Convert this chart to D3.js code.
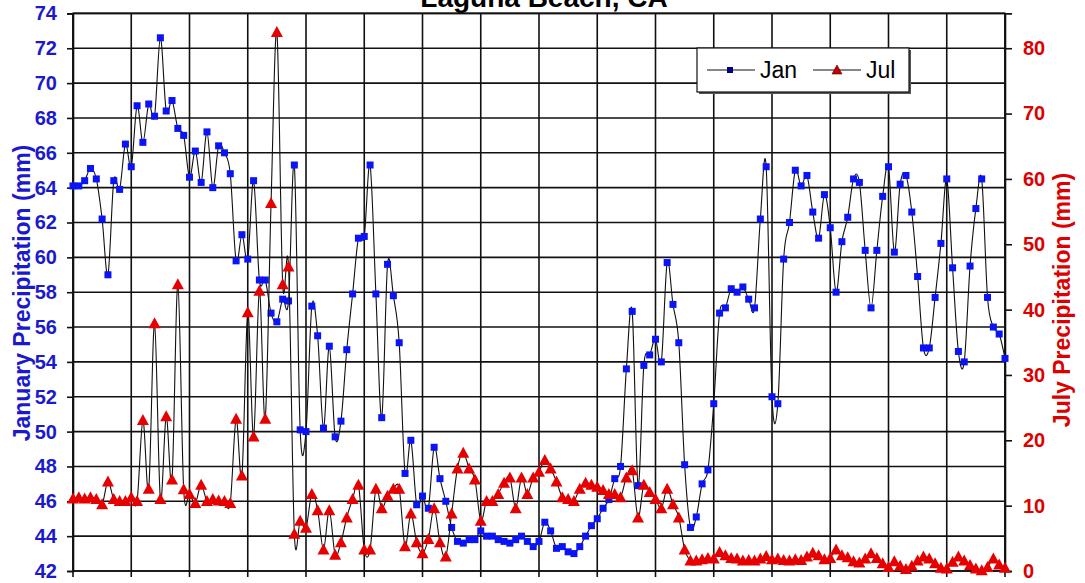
<!DOCTYPE html>
<html>
<head>
<meta charset="utf-8">
<script src="https://cdn.jsdelivr.net/npm/d3@7"></script>
<style>
  body { margin: 0; background: #fff; }
  svg { display: block; }
  text { font-family: Arial, "Liberation Sans", Helvetica, sans-serif; }
</style>
</head>
<body>
<svg id="chart" width="1085" height="583"></svg>
<script>
// Laguna Beach, CA — January (left axis) and July (right axis) precipitation, one value per year
const janPrecip = [
  64.1, 64.1, 64.4, 65.1, 64.5, 62.2, 59.0, 64.4, 63.9, 66.5,
  65.2, 68.7, 66.6, 68.8, 68.1, 72.6, 68.4, 69.0, 67.4, 67.0,
  64.6, 66.1, 64.3, 67.2, 64.0, 66.4, 66.0, 64.8, 59.8, 61.3,
  59.9, 64.4, 58.7, 58.7, 56.8, 56.3, 57.6, 57.5, 65.3, 50.1,
  50.0, 57.2, 55.5, 50.2, 54.9, 49.7, 50.6, 54.7, 57.9, 61.1,
  61.2, 65.3, 57.9, 50.8, 59.6, 57.8, 55.1, 47.6, 49.5, 45.8,
  46.3, 45.6, 49.1, 47.3, 46.0, 44.5, 43.7, 43.6, 43.8, 43.8,
  44.3, 44.0, 44.0, 43.8, 43.7, 43.6, 43.8, 44.0, 43.7, 43.4,
  43.7, 44.8, 44.3, 43.3, 43.4, 43.1, 43.0, 43.4, 44.0, 44.6,
  45.0, 45.6, 46.1, 47.3, 48.0, 53.6, 56.9, 46.9, 53.8, 54.4,
  55.3, 54.0, 59.7, 57.3, 55.1, 48.1, 44.5, 45.1, 47.0, 47.8,
  51.6, 56.8, 57.1, 58.2, 58.0, 58.3, 57.6, 57.1, 62.2, 65.2,
  52.0, 51.6, 59.9, 62.0, 65.0, 64.1, 64.7, 62.6, 61.1, 63.6,
  61.7, 58.0, 60.9, 62.3, 64.5, 64.3, 60.4, 57.1, 60.4, 63.5,
  65.2, 60.3, 64.2, 64.7, 62.6, 58.9, 54.8, 54.8, 57.7, 60.8,
  64.5, 59.4, 54.6, 54.0, 59.5, 62.8, 64.5, 57.7, 56.0, 55.6,
  54.2
];

const julPrecip = [
  11.1, 11.3, 11.1, 11.3, 11.0, 10.2, 13.7, 11.0, 10.7, 10.7,
  11.3, 10.7, 23.1, 12.6, 37.9, 11.0, 23.7, 14.0, 43.9, 12.5,
  11.8, 10.4, 13.2, 10.7, 11.0, 10.8, 10.7, 10.4, 23.3, 14.6,
  39.6, 20.6, 42.9, 23.3, 56.3, 82.5, 43.9, 46.6, 5.7, 7.7,
  6.6, 11.8, 9.3, 3.3, 9.3, 2.5, 4.4, 8.2, 11.0, 13.2,
  3.3, 3.3, 12.6, 9.6, 11.5, 12.6, 12.6, 3.8, 8.8, 4.4,
  2.7, 4.9, 9.6, 4.4, 2.2, 8.8, 15.7, 18.1, 15.7, 14.0,
  7.7, 10.7, 10.7, 11.8, 13.5, 14.3, 9.6, 14.3, 11.8, 14.3,
  15.2, 17.0, 15.7, 13.7, 11.3, 11.0, 10.7, 12.6, 13.5, 13.2,
  12.9, 12.4, 11.8, 11.8, 11.3, 14.3, 15.4, 8.2, 13.2, 12.1,
  11.0, 9.6, 12.6, 10.2, 8.2, 3.3, 1.6, 1.6, 1.8, 2.0,
  1.9, 2.9, 2.4, 2.0, 1.9, 1.6, 1.7, 1.6, 1.9, 2.3,
  1.8, 1.9, 1.7, 1.6, 1.8, 1.7, 2.2, 2.8, 2.4, 1.8,
  2.0, 3.3, 2.4, 2.1, 1.5, 1.3, 1.9, 2.7, 2.0, 1.2,
  0.6, 1.5, 0.8, 0.3, 0.8, 1.6, 2.2, 1.9, 1.2, 0.5,
  0.4, 1.4, 2.2, 1.6, 0.9, 0.4, 0.1, 0.6, 1.9, 1.0,
  0.5
];

const leftTicks = [42, 44, 46, 48, 50, 52, 54, 56, 58, 60, 62, 64, 66, 68, 70, 72, 74];
const rightTicks = [0, 10, 20, 30, 40, 50, 60, 70, 80];
const seriesNames = ["Jan", "Jul"];
const chartTitle = "Laguna Beach, CA";
const leftTitle = "January Precipitation (mm)";
const rightTitle = "July Precipitation (mm)";

const blue = "#1a1acc";
const red = "#dd0000";

const svg = d3.select("#chart");
const plot = { left: 73, right: 1005, top: 13.4, bottom: 571 };

const x = d3.scaleLinear().domain([0, janPrecip.length - 1]).range([plot.left, plot.right]);
const yL = d3.scaleLinear().domain([42, 74]).range([plot.bottom, plot.top]);
const yR = d3.scaleLinear().domain([0, 85.33]).range([plot.bottom, plot.top]);
const xGrid = d3.range(0, janPrecip.length, 10);

// grid
const grid = svg.append("g").attr("stroke", "#111").attr("stroke-width", 1.6);
grid.selectAll("line.h").data(leftTicks).join("line")
  .attr("x1", plot.left).attr("x2", plot.right)
  .attr("y1", d => yL(d)).attr("y2", d => yL(d));
grid.selectAll("line.v").data(xGrid).join("line")
  .attr("y1", plot.top).attr("y2", plot.bottom + 6)
  .attr("x1", d => x(d)).attr("x2", d => x(d));

// left axis
const leftAxis = svg.append("g").attr("transform", `translate(${plot.left},0)`)
  .call(d3.axisLeft(yL).tickValues(leftTicks).tickSize(6).tickPadding(10).tickFormat(d3.format("d")));
leftAxis.select(".domain").attr("stroke", "#111").attr("stroke-width", 1.6);
leftAxis.selectAll(".tick line").attr("stroke", "#111").attr("stroke-width", 1.6);
leftAxis.selectAll(".tick text").attr("fill", blue).attr("font-size", 20).attr("font-weight", "bold");

// right axis
const rightAxis = svg.append("g").attr("transform", `translate(${plot.right},0)`)
  .call(d3.axisRight(yR).tickValues(rightTicks).tickSize(7).tickPadding(11).tickFormat(d3.format("d")));
rightAxis.select(".domain").attr("stroke", "#111").attr("stroke-width", 1.6);
rightAxis.selectAll(".tick line").attr("stroke", "#111").attr("stroke-width", 1.6);
rightAxis.selectAll(".tick text").attr("fill", red).attr("font-size", 20).attr("font-weight", "bold");

// frame
svg.append("rect").attr("x", plot.left).attr("y", plot.top)
  .attr("width", plot.right - plot.left).attr("height", plot.bottom - plot.top)
  .attr("fill", "none").attr("stroke", "#111").attr("stroke-width", 1.6);

// series
svg.append("clipPath").attr("id", "plotclip").append("rect")
  .attr("x", plot.left - 8).attr("y", 0).attr("width", plot.right - plot.left + 16).attr("height", 583);

const smooth = d3.curveCardinal.tension(0);
const janLine = d3.line().x((d, i) => x(i)).y(d => yL(d)).curve(smooth);
const julLine = d3.line().x((d, i) => x(i)).y(d => yR(d)).curve(smooth);

const series = svg.append("g").attr("clip-path", "url(#plotclip)");
series.append("path").datum(janPrecip).attr("d", janLine)
  .attr("fill", "none").attr("stroke", "#111").attr("stroke-width", 1.1);
series.selectAll("rect.jan").data(janPrecip).join("rect")
  .attr("x", (d, i) => x(i) - 3.5).attr("y", d => yL(d) - 3.5)
  .attr("width", 7).attr("height", 7).attr("fill", "#0a14f5");

series.append("path").datum(julPrecip).attr("d", julLine)
  .attr("fill", "none").attr("stroke", "#111").attr("stroke-width", 1.1);
const tri = "M-6,5L6,5L0,-6Z";
series.selectAll("path.jul").data(julPrecip).join("path")
  .attr("transform", (d, i) => `translate(${x(i)},${yR(d)})`)
  .attr("d", tri).attr("fill", "#e60000");

// titles
svg.append("text").attr("x", 544).attr("y", 7).attr("text-anchor", "middle")
  .attr("font-size", 28).attr("font-weight", "bold").attr("fill", "#000").text(chartTitle);
svg.append("text").attr("transform", "translate(30,293) rotate(-90)").attr("text-anchor", "middle")
  .attr("font-size", 23).attr("font-weight", "bold").attr("fill", blue).text(leftTitle);
svg.append("text").attr("transform", "translate(1070,300) rotate(-90)").attr("text-anchor", "middle")
  .attr("font-size", 23).attr("font-weight", "bold").attr("fill", red).text(rightTitle);

// legend
const lg = svg.append("g").attr("transform", "translate(697,48)");
lg.append("rect").attr("x", 2).attr("y", 2).attr("width", 212).attr("height", 44).attr("fill", "#555");
lg.append("rect").attr("width", 212).attr("height", 44).attr("fill", "#fff").attr("stroke", "#111").attr("stroke-width", 1.2);
const items = lg.selectAll("g.item").data(seriesNames).join("g")
  .attr("transform", (d, i) => `translate(${10 + i * 106},22)`);
items.append("line").attr("x1", 0).attr("x2", 48).attr("stroke", "#111").attr("stroke-width", 1.2);
items.filter((d, i) => i === 0).append("rect").attr("x", 20).attr("y", -3).attr("width", 6).attr("height", 6).attr("fill", "#00007a");
items.filter((d, i) => i === 1).append("path").attr("transform", "translate(24,0)").attr("d", "M-5,4L5,4L0,-5Z").attr("fill", "#c00000").attr("stroke", "#500").attr("stroke-width", 0.6);
items.append("text").attr("x", 53).attr("y", 8).attr("font-size", 23).attr("fill", "#000").text(d => d);
</script>
</body>
</html>
